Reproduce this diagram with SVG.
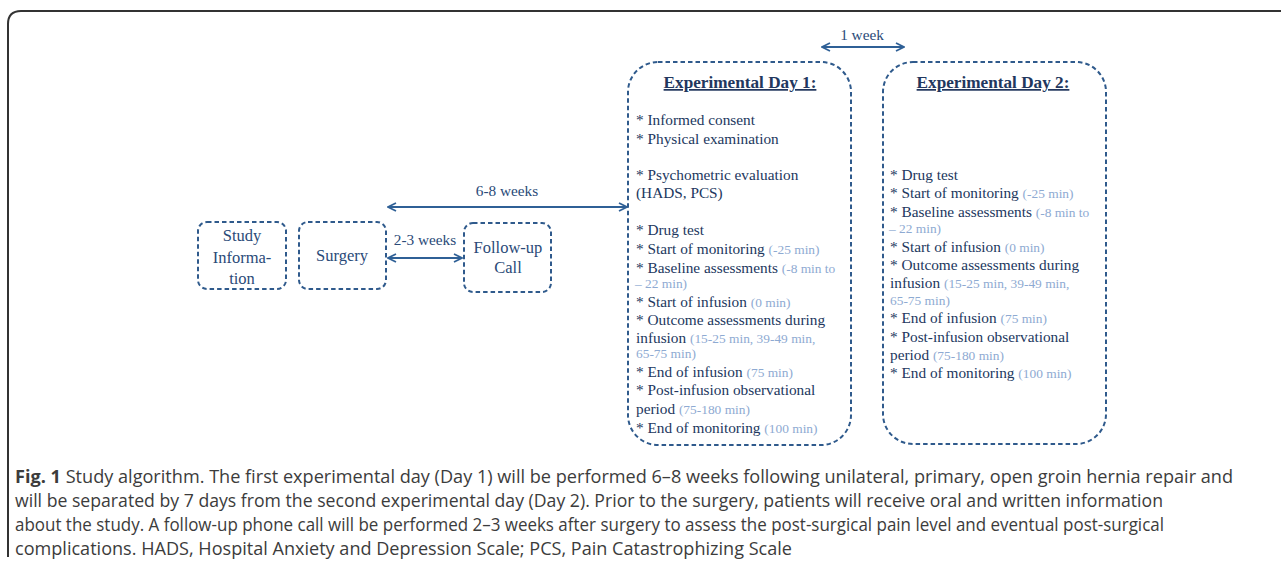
<svg xmlns="http://www.w3.org/2000/svg" width="1281" height="567" viewBox="0 0 1281 567">
<style>
.box{fill:none;stroke:#2f5a8c;stroke-width:2;stroke-dasharray:4.5 3}
.lbl{font-family:"Liberation Serif",serif;font-size:16.5px;fill:#2a4a78;text-anchor:middle}
.t{font-family:"Liberation Serif",serif;font-size:15.3px;fill:#22375e}
.g{font-size:13.4px;fill:#8eaad2}
.title{font-family:"Liberation Serif",serif;font-size:17.2px;font-weight:bold;fill:#22375e;text-anchor:middle;text-decoration:underline}
.conn{stroke:#2f6096;stroke-width:2;fill:none}
.cap{font-family:"Open Sans",sans-serif;font-size:18px;fill:#3c3c3c}
</style>
<defs>
<marker id="ah" viewBox="0 0 10 10" refX="9" refY="5" markerWidth="10" markerHeight="10" markerUnits="userSpaceOnUse" orient="auto-start-reverse">
<polyline points="1,1 9,5 1,9" fill="none" stroke="#2f6096" stroke-width="1.8"/>
</marker>
</defs>
<rect width="1281" height="567" fill="#fff"/>
<path d="M1281 11 H21 Q8 11 8 24 V557" fill="none" stroke="#333" stroke-width="2"/>

<g id="connectors">
<line class="conn" x1="388" y1="258" x2="462" y2="258" marker-start="url(#ah)" marker-end="url(#ah)"/>
<text class="lbl" x="425" y="245" style="font-size:15.3px">2-3 weeks</text>
<line class="conn" x1="388" y1="207" x2="627" y2="207" marker-start="url(#ah)" marker-end="url(#ah)"/>
<text class="lbl" x="507" y="196" style="font-size:15.3px">6-8 weeks</text>
<line class="conn" x1="822" y1="47" x2="904" y2="47" marker-start="url(#ah)" marker-end="url(#ah)"/>
<text class="lbl" x="862" y="40" style="font-size:15.3px">1 week</text>
</g>

<g id="study-information">
<rect class="box" x="198" y="222" width="88" height="67" rx="9"/>
<text class="lbl" x="242" y="241">Study</text>
<text class="lbl" x="242" y="263">Informa-</text>
<text class="lbl" x="242" y="284">tion</text>
</g>

<g id="surgery">
<rect class="box" x="299" y="222" width="87" height="67" rx="9"/>
<text class="lbl" x="342" y="261">Surgery</text>
</g>

<g id="follow-up-call">
<rect class="box" x="464" y="223" width="87" height="69" rx="9"/>
<text class="lbl" x="508" y="253">Follow-up</text>
<text class="lbl" x="508" y="273">Call</text>
</g>

<g id="experimental-day-1">
<rect class="box" x="628" y="62" width="223" height="383" rx="30"/>
<text class="title" x="740" y="88">Experimental Day 1:</text>
<text class="t" x="636" y="125">* Informed consent</text>
<text class="t" x="636" y="144">* Physical examination</text>
<text class="t" x="636" y="180">* Psychometric evaluation</text>
<text class="t" x="636" y="198">(HADS, PCS)</text>
<text class="t" x="636" y="235">* Drug test</text>
<text class="t" x="636" y="254">* Start of monitoring <tspan class="g">(-25 min)</tspan></text>
<text class="t" x="636" y="273">* Baseline assessments <tspan class="g">(-8 min to</tspan></text>
<text class="t" x="635" y="288"><tspan class="g">– 22 min)</tspan></text>
<text class="t" x="636" y="307">* Start of infusion <tspan class="g">(0 min)</tspan></text>
<text class="t" x="636" y="325">* Outcome assessments during</text>
<text class="t" x="636" y="343">infusion <tspan class="g">(15-25 min, 39-49 min,</tspan></text>
<text class="t" x="636" y="358"><tspan class="g">65-75 min)</tspan></text>
<text class="t" x="636" y="377">* End of infusion <tspan class="g">(75 min)</tspan></text>
<text class="t" x="636" y="395">* Post-infusion observational</text>
<text class="t" x="636" y="414">period <tspan class="g">(75-180 min)</tspan></text>
<text class="t" x="636" y="433">* End of monitoring <tspan class="g">(100 min)</tspan></text>
</g>

<g id="experimental-day-2">
<rect class="box" x="883" y="62" width="223" height="382" rx="30"/>
<text class="title" x="993" y="88">Experimental Day 2:</text>
<text class="t" x="890" y="180">* Drug test</text>
<text class="t" x="890" y="198">* Start of monitoring <tspan class="g">(-25 min)</tspan></text>
<text class="t" x="890" y="217">* Baseline assessments <tspan class="g">(-8 min to</tspan></text>
<text class="t" x="889" y="233"><tspan class="g">– 22 min)</tspan></text>
<text class="t" x="890" y="252">* Start of infusion <tspan class="g">(0 min)</tspan></text>
<text class="t" x="890" y="270">* Outcome assessments during</text>
<text class="t" x="890" y="288">infusion <tspan class="g">(15-25 min, 39-49 min,</tspan></text>
<text class="t" x="890" y="305"><tspan class="g">65-75 min)</tspan></text>
<text class="t" x="890" y="323">* End of infusion <tspan class="g">(75 min)</tspan></text>
<text class="t" x="890" y="342">* Post-infusion observational</text>
<text class="t" x="890" y="360">period <tspan class="g">(75-180 min)</tspan></text>
<text class="t" x="890" y="378">* End of monitoring <tspan class="g">(100 min)</tspan></text>
</g>

<g id="caption">
<text class="cap" x="15" y="483" textLength="1218" lengthAdjust="spacingAndGlyphs"><tspan font-weight="bold">Fig. 1</tspan> Study algorithm. The first experimental day (Day 1) will be performed 6–8 weeks following unilateral, primary, open groin hernia repair and</text>
<text class="cap" x="15" y="507" textLength="1148" lengthAdjust="spacingAndGlyphs">will be separated by 7 days from the second experimental day (Day 2). Prior to the surgery, patients will receive oral and written information</text>
<text class="cap" x="15" y="531" textLength="1149" lengthAdjust="spacingAndGlyphs">about the study. A follow-up phone call will be performed 2–3 weeks after surgery to assess the post-surgical pain level and eventual post-surgical</text>
<text class="cap" x="15" y="555" textLength="777" lengthAdjust="spacingAndGlyphs">complications. HADS, Hospital Anxiety and Depression Scale; PCS, Pain Catastrophizing Scale</text>
</g>
</svg>
